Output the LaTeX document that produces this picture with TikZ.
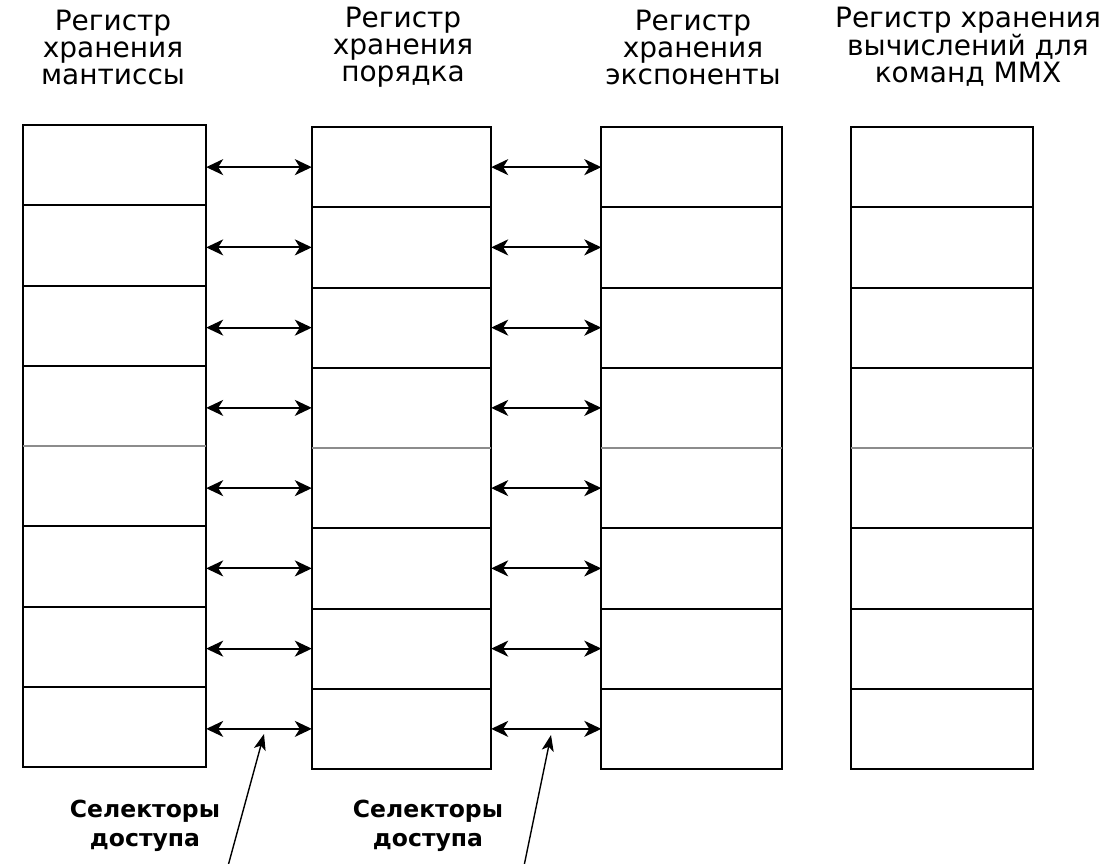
\documentclass[tikz,border=0pt]{standalone}
\usepackage{fontspec}
\setmainfont{DejaVu Sans}
\usetikzlibrary{arrows.meta}
\begin{document}
\begin{tikzpicture}[x=1pt,y=-1pt,
  cell/.style={rectangle,inner sep=0pt,minimum height=80.25pt},
  frame/.style={draw=black,line width=2pt},
  midline/.style={draw=black!45,line width=2pt},
  link/.style={line width=2pt,{Stealth[length=17pt,width=16pt,inset=5pt]}-{Stealth[length=17pt,width=16pt,inset=5pt]}},
  pointer/.style={line width=1.4pt,-{Stealth[length=16pt,width=12pt,inset=4pt]}},
  title/.style={align=center,font=\fontsize{28}{27}\selectfont},
  sel/.style={align=center,font=\bfseries\fontsize{23.5}{29.5}\selectfont}]
\useasboundingbox (0,0) rectangle (1114,863);
% columns: center x, width, top y
\foreach \c/\cx/\w/\top in {1/114.5/183/125, 2/401.5/179/127, 3/691.5/180/127, 4/942/182/127}{
  \foreach \k in {1,...,8}{
    \node[cell,minimum width=\w pt] (c\c-\k) at (\cx,{\top+40.125+80.25*(\k-1)}) {};
  }
  \draw[frame] (c\c-1.north west) rectangle (c\c-8.south east);
  \foreach \k in {1,2,3,5,6,7}{
    \draw[frame] (c\c-\k.south west) -- (c\c-\k.south east);
  }
  \draw[midline] (c\c-4.south west) -- (c\c-4.south east);
}
\foreach \k in {1,...,8}{
  \draw[link] (c2-\k.west -| c1-\k.east) -- (c2-\k.west);
  \draw[link] (c2-\k.east) -- (c3-\k.west |- c2-\k.east);
}
\node[title] (t1) at (113,47) {Регистр\\хранения\\мантиссы};
\node[title] (t2) at (403,47) {Регистр\\хранения\\порядка};
\node[title] (t3) at (693,47) {Регистр\\хранения\\экспоненты};
\node[title] (t4) at (968,47) {Регистр хранения\\вычислений для\\команд MMX};
\node[sel] (s1) at (145,826) {Селекторы\\доступа};
\node[sel] (s2) at (428,826) {Селекторы\\доступа};
\coordinate (p1) at (228,866);
\coordinate (p2) at (524,866);
\coordinate (q1) at (264,734);
\coordinate (q2) at (551,735);
\draw[pointer] (p1) -- (q1);
\draw[pointer] (p2) -- (q2);
\end{tikzpicture}
\end{document}
